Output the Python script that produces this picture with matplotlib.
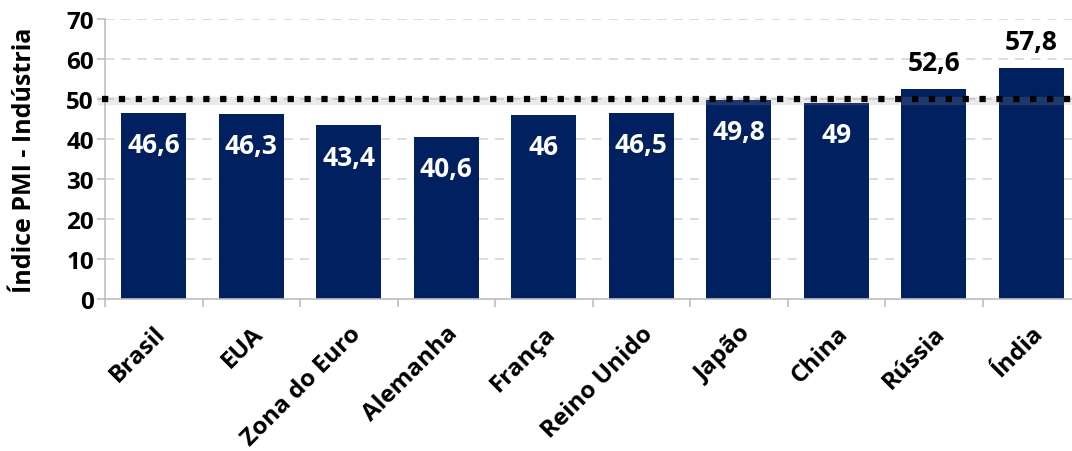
import matplotlib.pyplot as plt

plt.rcParams['font.family'] = ['Open Sans', 'DejaVu Sans']
plt.rcParams['font.weight'] = 'bold'

paises = ['Brasil', 'EUA', 'Zona do Euro', 'Alemanha', 'França',
          'Reino Unido', 'Japão', 'China', 'Rússia', 'Índia']
pmi = [46.6, 46.3, 43.4, 40.6, 46.0, 46.5, 49.8, 49.0, 52.6, 57.8]
rotulos = ['46,6', '46,3', '43,4', '40,6', '46', '46,5', '49,8', '49', '52,6', '57,8']
limiar = 50

cor_barra = '#002060'

fig = plt.figure(figsize=(10.72, 4.52), dpi=100)
ax = fig.add_axes([105 / 1072, 152 / 452, 975 / 1072, 280 / 452])

x = range(len(paises))
barras = ax.bar(x, pmi, width=0.67, color=cor_barra, zorder=2)

# linha de referência em 50 (expansão x contração), com sombra leve
ax.plot([-0.53, 9.5], [limiar - 0.6, limiar - 0.6], color='#999999', lw=6,
        alpha=0.2, zorder=3, clip_on=False)
ax.plot([-0.53, 9.5], [limiar, limiar], color='black', lw=4.5,
        ls=(0, (1, 1.7)), solid_capstyle='butt', zorder=4, clip_on=False)

for b, v, txt in zip(barras, pmi, rotulos):
    cx = b.get_x() + b.get_width() / 2
    if v < limiar:
        ax.annotate(txt, (cx, v), xytext=(0, -23), textcoords='offset points',
                    ha='center', va='center', color='white',
                    fontsize=19, fontweight='bold', zorder=5)
    else:
        ax.annotate(txt, (cx, v), xytext=(0, 19), textcoords='offset points',
                    ha='center', va='center', color='black',
                    fontsize=19, fontweight='bold', zorder=5)

ax.set_xlim(-0.5, 9.5)
ax.set_ylim(0, 70)
ax.set_yticks(range(0, 71, 10))
ax.yaxis.grid(True, color='#d9d9d9', ls=(0, (5, 4)), lw=1.3, zorder=0)
ax.set_axisbelow(True)

ax.set_xticks([i + 0.5 for i in range(-1, 10)], minor=True)
ax.set_xticks(list(x))
ax.set_xticklabels(paises, rotation=45, ha='right', va='top',
                   rotation_mode='anchor', fontsize=17.5, fontweight='bold')
ax.tick_params(axis='x', which='major', length=0, pad=16)
ax.tick_params(axis='x', which='minor', length=6, color='#bfbfbf', width=1.2)
ax.tick_params(axis='y', length=6, color='#bfbfbf', width=1.2, labelsize=17.5, pad=2)
for lbl in ax.get_yticklabels():
    lbl.set_fontweight('bold')

ax.set_ylabel('Índice PMI - Indústria', fontsize=18, fontweight='bold')
ax.yaxis.set_label_coords(-68 / 975, 0.5)

for s in ['top', 'right']:
    ax.spines[s].set_visible(False)
for s in ['left', 'bottom']:
    ax.spines[s].set_color('#bfbfbf')
    ax.spines[s].set_linewidth(1.2)

fig.savefig('out.png', dpi=100)
